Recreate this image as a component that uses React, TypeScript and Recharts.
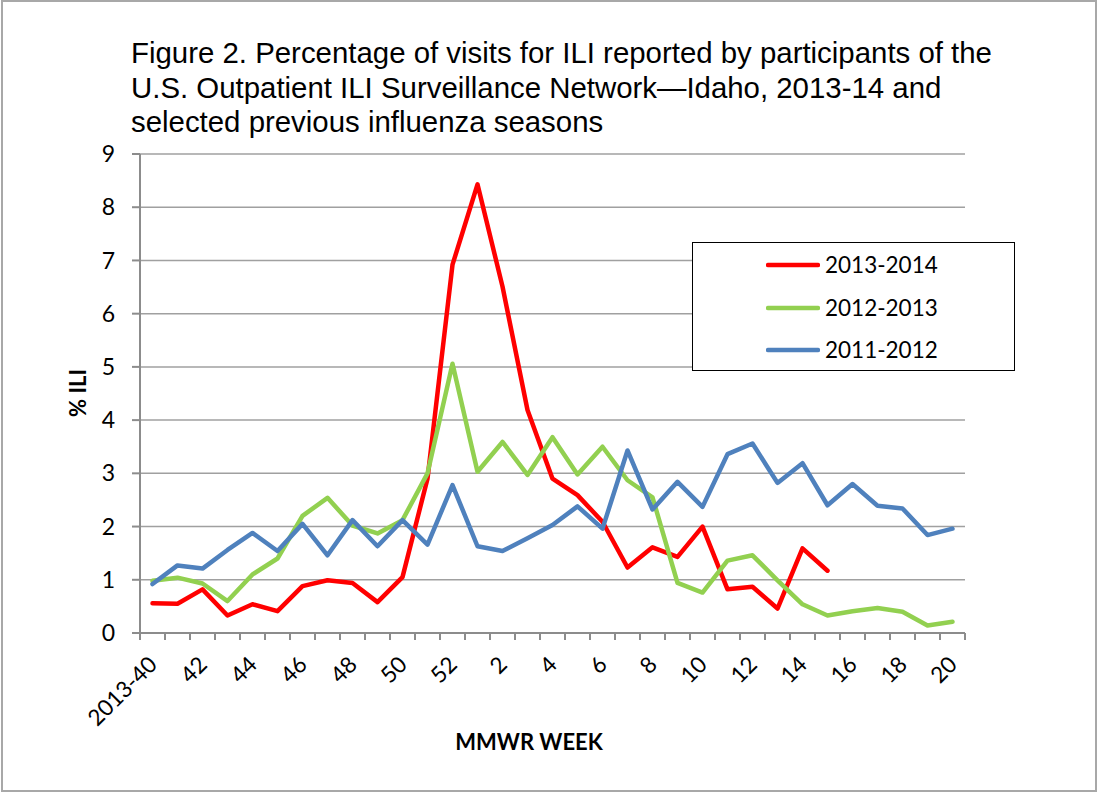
import React from 'react';
import { LineChart, Line, XAxis, YAxis, CartesianGrid, Legend, Label } from 'recharts';

const weeks = [
  '2013-40', '41', '42', '43', '44', '45', '46', '47', '48', '49', '50', '51', '52',
  '1', '2', '3', '4', '5', '6', '7', '8', '9', '10', '11', '12', '13', '14', '15', '16', '17', '18', '19', '20',
];

const season2013_14 = [
  0.56, 0.55, 0.82, 0.33, 0.54, 0.41, 0.88, 0.99, 0.94, 0.58, 1.05, 2.9, 6.92,
  8.43, 6.51, 4.19, 2.9, 2.59, 2.09, 1.23, 1.61, 1.43, 2.0, 0.82, 0.87, 0.46, 1.59, 1.17,
];

const season2012_13 = [
  0.98, 1.04, 0.93, 0.6, 1.1, 1.4, 2.2, 2.54, 2.02, 1.87, 2.12, 3.0, 5.06,
  3.03, 3.59, 2.97, 3.68, 2.98, 3.5, 2.87, 2.55, 0.94, 0.76, 1.36, 1.46, 0.99, 0.54, 0.33, 0.41, 0.47, 0.4, 0.14, 0.21,
];

const season2011_12 = [
  0.92, 1.27, 1.21, 1.56, 1.88, 1.54, 2.05, 1.46, 2.12, 1.63, 2.12, 1.66, 2.78,
  1.63, 1.54, 1.78, 2.03, 2.38, 1.96, 3.43, 2.32, 2.84, 2.37, 3.36, 3.56, 2.82, 3.19, 2.4, 2.8, 2.39, 2.34, 1.84, 1.96,
];

const yTicks = [0, 1, 2, 3, 4, 5, 6, 7, 8, 9];

const seriesNames = ['2013-2014', '2012-2013', '2011-2012'];
const seriesColors = ['#FF0000', '#92D050', '#4F81BD'];

const data = weeks.map((w, i) => ({
  week: w,
  s1: season2013_14[i] ?? null,
  s2: season2012_13[i] ?? null,
  s3: season2011_12[i] ?? null,
}));

const W = 1100;
const H = 794;
const MARGIN = { top: 154, right: 135, bottom: 0, left: 0 };
const Y_AXIS_W = 140;
const X_AXIS_H = 161;
const PLOT_W = W - MARGIN.left - MARGIN.right - Y_AXIS_W;
const BAND = PLOT_W / weeks.length;
const HALF = BAND / 2;
const FONT = 'Lato, "Noto Sans", sans-serif';
const AXIS_GRAY = '#8c8c8c';

const XTick = (props: any) => {
  const { x, y, payload } = props;
  const idx = payload?.index ?? props.index ?? 0;
  const showLabel = idx % 2 === 0;
  const ax = x + 6;
  const ay = y + 33;
  return (
    <g>
      <line x1={x - HALF} y1={y} x2={x - HALF} y2={y + 7} stroke={AXIS_GRAY} strokeWidth={2} />
      {idx === weeks.length - 1 && (
        <line x1={x + HALF} y1={y} x2={x + HALF} y2={y + 7} stroke={AXIS_GRAY} strokeWidth={2} />
      )}
      {showLabel && (
        <text
          x={ax}
          y={ay}
          textAnchor="end"
          transform={`rotate(-45, ${ax}, ${ay})`}
          fontSize={22.5}
          fontFamily={FONT}
          fill="#000"
        >
          {payload.value}
        </text>
      )}
    </g>
  );
};

const renderLegend = (props: any) => {
  const payload = (props.payload || []).slice().sort(
    (a: any, b: any) => seriesNames.indexOf(a.value) - seriesNames.indexOf(b.value)
  );
  return (
    <div style={{ paddingTop: 1, fontFamily: FONT }}>
      {payload.map((entry: any) => (
        <div
          key={entry.value}
          style={{ display: 'flex', alignItems: 'center', height: 42.5, paddingLeft: 73 }}
        >
          <svg width={54} height={10} style={{ display: 'block' }}>
            <line x1={2} y1={5} x2={52} y2={5} stroke={entry.color} strokeWidth={4.5} strokeLinecap="round" />
          </svg>
          <span style={{ marginLeft: 5, fontSize: 22.5, color: '#000', lineHeight: '22px' }}>{entry.value}</span>
        </div>
      ))}
    </div>
  );
};

export default function App() {
  return (
    <div style={{ position: 'absolute', left: 0, top: 0, width: W, height: H, background: '#fff' }}>
      <div
        style={{
          position: 'absolute',
          left: 1,
          top: 0,
          width: 1096,
          height: 792,
          border: '2px solid #a8a8a8',
          boxSizing: 'border-box',
        }}
      />
      <div
        style={{
          position: 'absolute',
          left: 131,
          top: 36,
          fontFamily: '"Liberation Sans", Arial, sans-serif',
          fontSize: 29.4,
          lineHeight: '34.5px',
          color: '#000',
          whiteSpace: 'nowrap',
          zIndex: 2,
        }}
      >
        <div>Figure 2. Percentage of visits for ILI reported by participants of the</div>
        <div>U.S. Outpatient ILI Surveillance Network—Idaho, 2013-14 and</div>
        <div>selected previous influenza seasons</div>
      </div>
      <div style={{ position: 'absolute', left: 0, top: 0 }}>
        <LineChart width={W} height={H} data={data} margin={MARGIN} style={{ fontFamily: FONT }}>
          <CartesianGrid horizontal vertical={false} stroke="#a0a0a0" strokeWidth={1.5} />
          <XAxis
            dataKey="week"
            interval={0}
            height={X_AXIS_H}
            padding={{ left: HALF, right: HALF }}
            tickLine={false}
            tickSize={0}
            tickMargin={0}
            axisLine={{ stroke: AXIS_GRAY, strokeWidth: 2 }}
            tick={<XTick />}
          >
            <Label
              content={() => (
                <text x={529} y={750} textAnchor="middle" fontSize={22} fontWeight="bold" fontFamily={FONT} fill="#000">
                  MMWR WEEK
                </text>
              )}
            />
          </XAxis>
          <YAxis
            type="number"
            domain={[0, 9]}
            ticks={yTicks}
            interval={0}
            width={Y_AXIS_W}
            tickSize={8}
            tickMargin={17}
            tickLine={{ stroke: AXIS_GRAY, strokeWidth: 2 }}
            axisLine={{ stroke: AXIS_GRAY, strokeWidth: 2 }}
            tick={{ fontSize: 23, fill: '#000', fontFamily: FONT }}
          >
            <Label
              content={() => (
                <text
                  x={86}
                  y={393}
                  textAnchor="middle"
                  transform="rotate(-90, 86, 393)"
                  fontSize={22}
                  fontWeight="bold"
                  fontFamily={FONT}
                  fill="#000"
                >
                  % ILI
                </text>
              )}
            />
          </YAxis>
          <Legend
            layout="vertical"
            align="center"
            verticalAlign="middle"
            content={renderLegend}
            wrapperStyle={{
              position: 'absolute',
              left: 692,
              top: 242,
              width: 323,
              height: 129,
              border: '1.5px solid #000',
              boxSizing: 'border-box',
              background: '#fff',
            }}
          />
          <Line
            type="linear"
            dataKey="s1"
            name={seriesNames[0]}
            stroke={seriesColors[0]}
            strokeWidth={4.5}
            strokeLinejoin="round"
            strokeLinecap="round"
            dot={false}
            activeDot={false}
            isAnimationActive={false}
          />
          <Line
            type="linear"
            dataKey="s2"
            name={seriesNames[1]}
            stroke={seriesColors[1]}
            strokeWidth={4.5}
            strokeLinejoin="round"
            strokeLinecap="round"
            dot={false}
            activeDot={false}
            isAnimationActive={false}
          />
          <Line
            type="linear"
            dataKey="s3"
            name={seriesNames[2]}
            stroke={seriesColors[2]}
            strokeWidth={4.5}
            strokeLinejoin="round"
            strokeLinecap="round"
            dot={false}
            activeDot={false}
            isAnimationActive={false}
          />
        </LineChart>
      </div>
    </div>
  );
}
